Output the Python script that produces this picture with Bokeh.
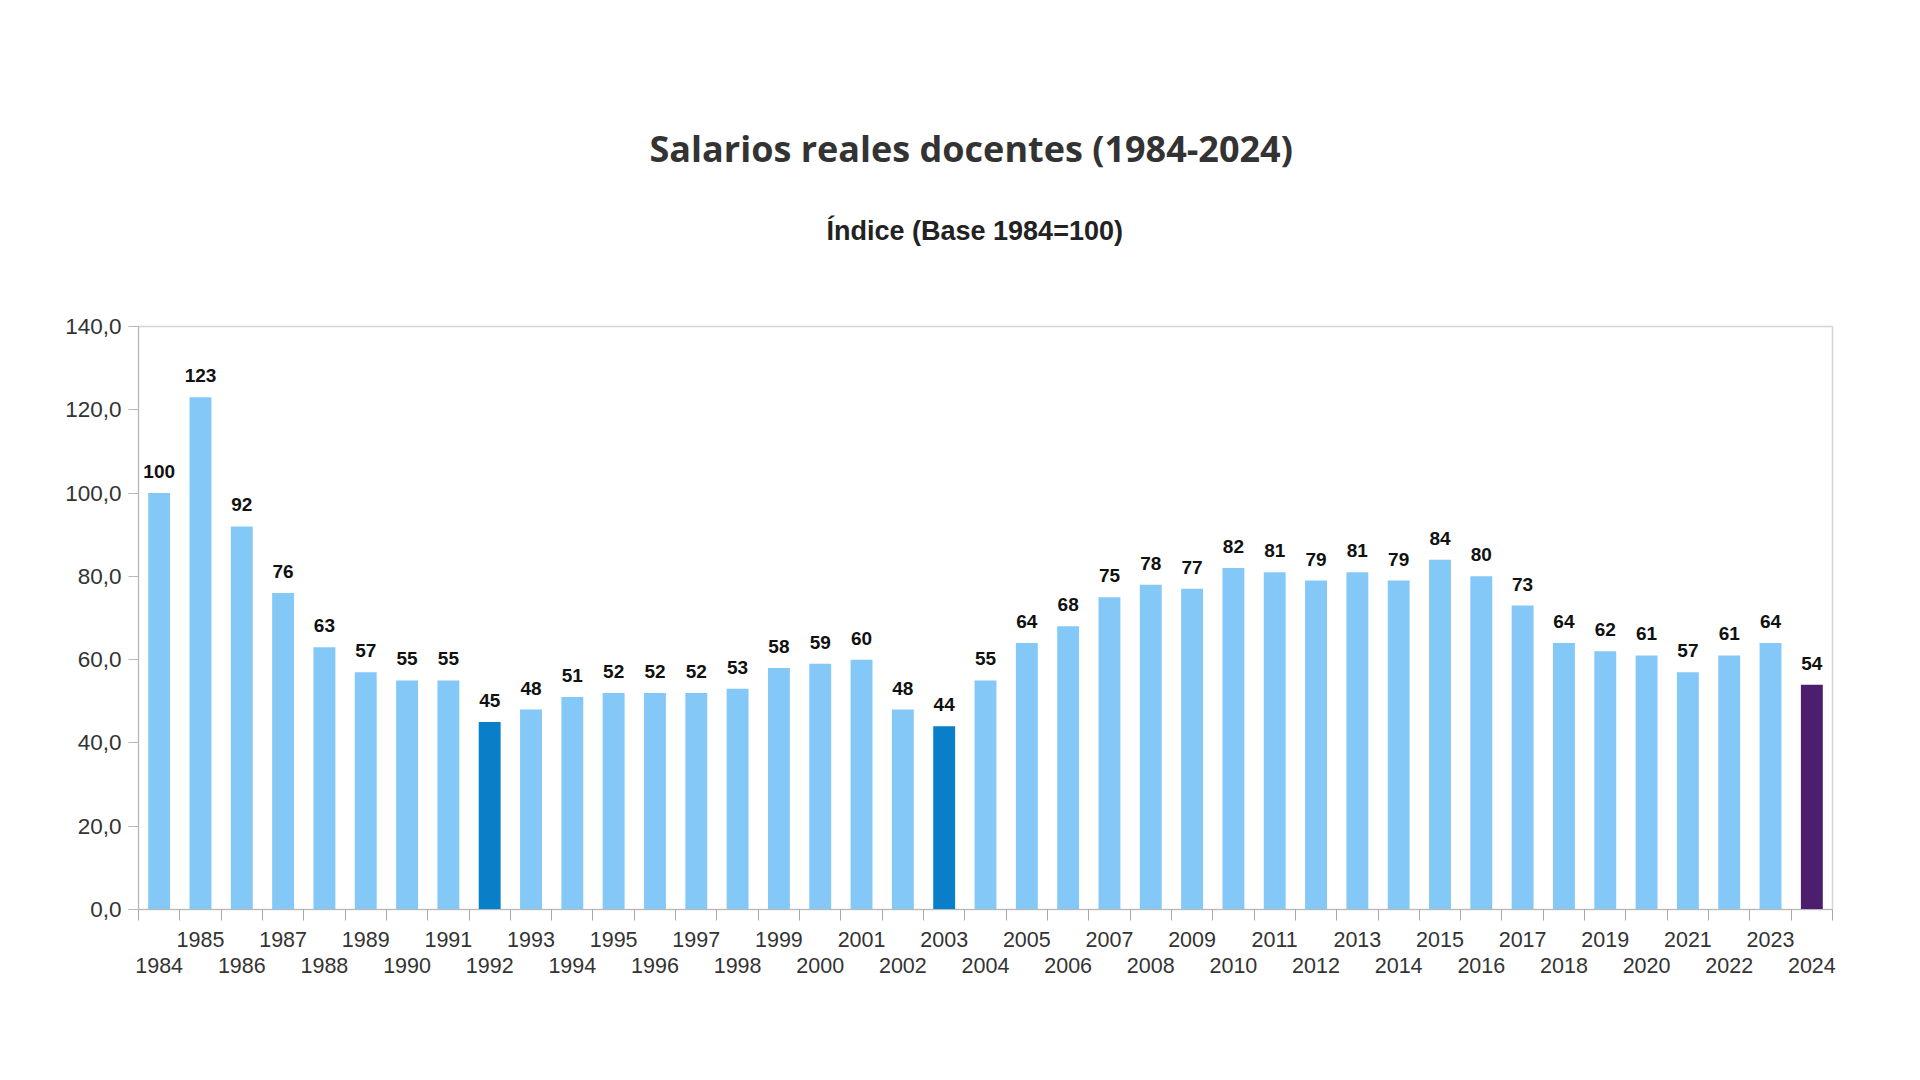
from bokeh.plotting import figure
from bokeh.models import (ColumnDataSource, FixedTicker, LinearAxis, Title, Range1d, Grid)
from bokeh.core.properties import value
from bokeh.embed import file_html
from bokeh.resources import INLINE

# ---- data ----
years = list(range(1984, 2025))
index_values = [100, 123, 92, 76, 63, 57, 55, 55, 45, 48, 51, 52, 52, 52, 53, 58, 59, 60,
                48, 44, 55, 64, 68, 75, 78, 77, 82, 81, 79, 81, 79, 84, 80, 73, 64, 62,
                61, 57, 61, 64, 54]
highlight_dark_years = [1992, 2003]
highlight_current_years = [2024]
y_ticks = [0, 20, 40, 60, 80, 100, 120, 140]
title_text = "Salarios reales docentes (1984-2024)"
subtitle_text = "Índice (Base 1984=100)"

# ---- styles ----
C_LIGHT = "#84c8f8"
C_DARK = "#0a7fc9"
C_CURRENT = "#4c1e6e"
GRID = "#b8b8b8"
TXT = "#333333"

colors = []
for y in years:
    if y in highlight_current_years:
        colors.append(C_CURRENT)
    elif y in highlight_dark_years:
        colors.append(C_DARK)
    else:
        colors.append(C_LIGHT)

src = ColumnDataSource(dict(
    x=years, top=index_values, color=colors,
    label=[str(int(round(v))) for v in index_values],
))

p = figure(width=1911, height=1008, output_backend="svg", toolbar_location=None,
           x_range=Range1d(years[0] - 0.5, years[-1] + 0.5),
           y_range=Range1d(y_ticks[0], y_ticks[-1]),
           x_axis_type=None, y_axis_type=None,
           min_border_left=138, min_border_right=79, min_border_top=326,
           min_border_bottom=99, background_fill_color="white",
           border_fill_color="white")
p.outline_line_color = "#d4d4d4"
p.outline_line_width = 1.5

p.vbar(x="x", top="top", bottom=0, width=0.53, color="color", line_color=None, source=src)
p.text(x="x", y="top", text="label", source=src, text_align="center",
       text_baseline="bottom", y_offset=-15, text_font=value("Liberation Sans"),
       text_font_style="bold", text_font_size="19px", text_color="#111111")

# y axis
yax = LinearAxis(ticker=FixedTicker(ticks=y_ticks, minor_ticks=[]))
yax.major_label_overrides = {t: f"{t:.1f}".replace(".", ",") for t in y_ticks}
yax.major_label_text_font = "Liberation Sans"
yax.major_label_text_font_size = "22.5px"
yax.major_label_text_color = TXT
yax.axis_line_color = GRID
yax.major_tick_line_color = GRID
yax.major_tick_out = 10
yax.major_tick_in = 0
yax.minor_tick_line_color = None
yax.major_label_standoff = 7
p.add_layout(yax, "left")

# grid
p.add_layout(Grid(dimension=1, ticker=yax.ticker, grid_line_color=GRID, grid_line_width=1))

# x axis: odd years (upper row) with boundary ticks
odd_years = [y for y in years if y % 2 == 1]
even_years = [y for y in years if y % 2 == 0]
boundaries = [y - 0.5 for y in years] + [years[-1] + 0.5]

xa = LinearAxis(ticker=FixedTicker(ticks=odd_years, minor_ticks=boundaries))
xa.major_label_overrides = {y: str(y) for y in odd_years}
xa.axis_line_color = GRID
xa.major_tick_line_color = None
xa.major_tick_out = 0
xa.major_tick_in = 0
xa.minor_tick_line_color = "#a8a8a8"
xa.minor_tick_out = 11
xa.minor_tick_in = 0
xa.major_label_standoff = 11
xa.major_label_text_font = "Liberation Sans"
xa.major_label_text_font_size = "21.5px"
xa.major_label_text_color = TXT
p.add_layout(xa, "below")

xb = LinearAxis(ticker=FixedTicker(ticks=even_years, minor_ticks=[]))
xb.major_label_overrides = {y: str(y) for y in even_years}
xb.axis_line_color = None
xb.major_tick_line_color = None
xb.minor_tick_line_color = None
xb.major_tick_out = 0
xb.major_tick_in = 0
xb.major_label_standoff = 8
xb.major_label_text_font = "Liberation Sans"
xb.major_label_text_font_size = "21.5px"
xb.major_label_text_color = TXT
p.add_layout(xb, "below")

p.xgrid.visible = False
p.ygrid.visible = False

# titles (a blank spacer panel sits between the frame and the subtitle)
spacer = Title(text=" ", text_font="Liberation Sans", text_font_size="22px",
               standoff=34)
p.add_layout(spacer, "above")
sub = Title(text=subtitle_text, align="left", offset=688, text_font="Liberation Sans",
            text_font_style="bold", text_font_size="27px", text_color="#222222",
            standoff=40)
p.add_layout(sub, "above")
main = Title(text=title_text, align="left", offset=511, text_font="Open Sans",
             text_font_style="bold", text_font_size="36px", text_color="#333333",
             standoff=41)
p.add_layout(main, "above")
p.title.visible = False

open("out.html", "w").write(file_html(p, INLINE))
